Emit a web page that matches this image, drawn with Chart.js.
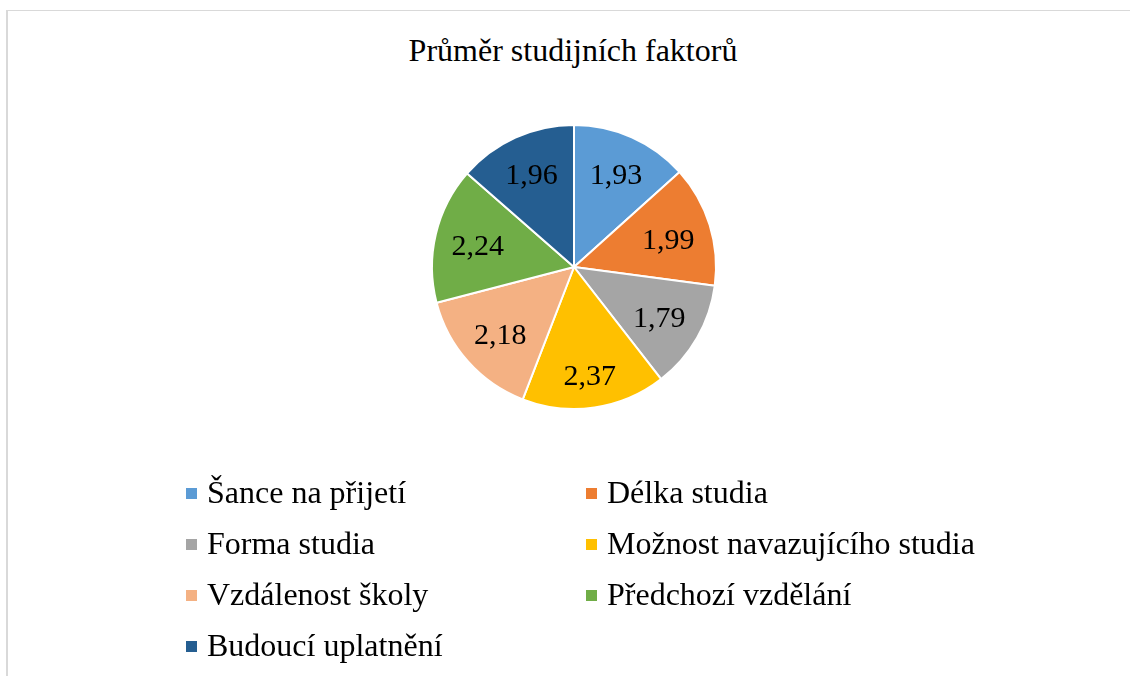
<!DOCTYPE html>
<html>
<head>
<meta charset="utf-8">
<script src="https://cdn.jsdelivr.net/npm/chart.js@4"></script>
<style>
  body { margin: 0; background: #fff; font-family: 'Liberation Serif', 'Times New Roman', serif; }
  #frame {
    position: absolute; left: 6px; top: 10px; width: 1200px; height: 700px;
    border-left: 2px solid #d9d9d9; border-top: 1px solid #d9d9d9;
  }
  #title {
    position: absolute; left: 0; width: 1146px; top: 32px; line-height: 36px;
    text-align: center; font-size: 32px; color: #000;
  }
  #pie { position: absolute; left: 0; top: 0; }
  .item {
    position: absolute; font-size: 32px; color: #000; white-space: nowrap;
    line-height: 36px; height: 36px; display: flex; align-items: center;
  }
  .item span.box { display: inline-block; width: 11px; height: 11px; margin-right: 10px; margin-top: 2px; }
</style>
</head>
<body>
<div id="frame"></div>
<div id="title">Průměr studijních faktorů</div>
<canvas id="pie" width="1130" height="676"></canvas>
<div id="legend"></div>
<script>
let factors = [
  'Šance na přijetí',
  'Délka studia',
  'Forma studia',
  'Možnost navazujícího studia',
  'Vzdálenost školy',
  'Předchozí vzdělání',
  'Budoucí uplatnění',
];

let averages = [1.93, 1.99, 1.79, 2.37, 2.18, 2.24, 1.96];

let sliceColors = [
  '#5B9BD5',
  '#ED7D31',
  '#A5A5A5',
  '#FFC000',
  '#F4B183',
  '#70AD47',
  '#255E91',
];

// labels inside the slices ("inside end" like excel), czech decimal comma
let valueLabels = {
  id: 'valueLabels',
  afterDatasetsDraw(chart) {
    let ctx = chart.ctx;
    let meta = chart.getDatasetMeta(0);
    ctx.save();
    ctx.font = '30px "Liberation Serif", "Times New Roman", serif';
    ctx.fillStyle = '#000';
    ctx.textAlign = 'center';
    ctx.textBaseline = 'middle';
    meta.data.forEach((arc, i) => {
      let text = averages[i].toFixed(2).replace('.', ',');
      let hw = ctx.measureText(text).width / 2;
      let hh = 14;
      let mid = (arc.startAngle + arc.endAngle) / 2;
      let dx = Math.cos(mid), dy = Math.sin(mid);
      let limit = arc.outerRadius - 14;
      // push the label box out until its far corner reaches the limit
      let lo = 0, hi = arc.outerRadius;
      for (let k = 0; k < 30; k++) {
        let t = (lo + hi) / 2;
        let d = Math.hypot(Math.abs(t * dx) + hw, Math.abs(t * dy) + hh);
        if (d > limit) hi = t; else lo = t;
      }
      ctx.fillText(text, arc.x + dx * lo, arc.y + dy * lo + 3);
    });
    ctx.restore();
  }
};

new Chart(document.getElementById('pie'), {
  type: 'pie',
  data: {
    labels: factors,
    datasets: [{
      data: averages,
      backgroundColor: sliceColors,
      borderColor: '#ffffff',
      borderWidth: 2,
    }],
  },
  options: {
    responsive: false,
    animation: false,
    layout: { padding: { top: 124, bottom: 266, left: 431, right: 413 } },
    plugins: {
      legend: { display: false },
      tooltip: { enabled: false },
    },
  },
  plugins: [valueLabels],
});

// two column legend like the Excel one
let legend = document.getElementById('legend');
factors.forEach((name, i) => {
  let col = i % 2;
  let row = Math.floor(i / 2);
  let el = document.createElement('div');
  el.className = 'item';
  el.style.left = (186 + col * 400) + 'px';
  el.style.top = (474 + row * 51) + 'px';
  el.innerHTML = '<span class="box" style="background:' + sliceColors[i] + '"></span>' + name;
  legend.appendChild(el);
});
</script>
</body>
</html>
